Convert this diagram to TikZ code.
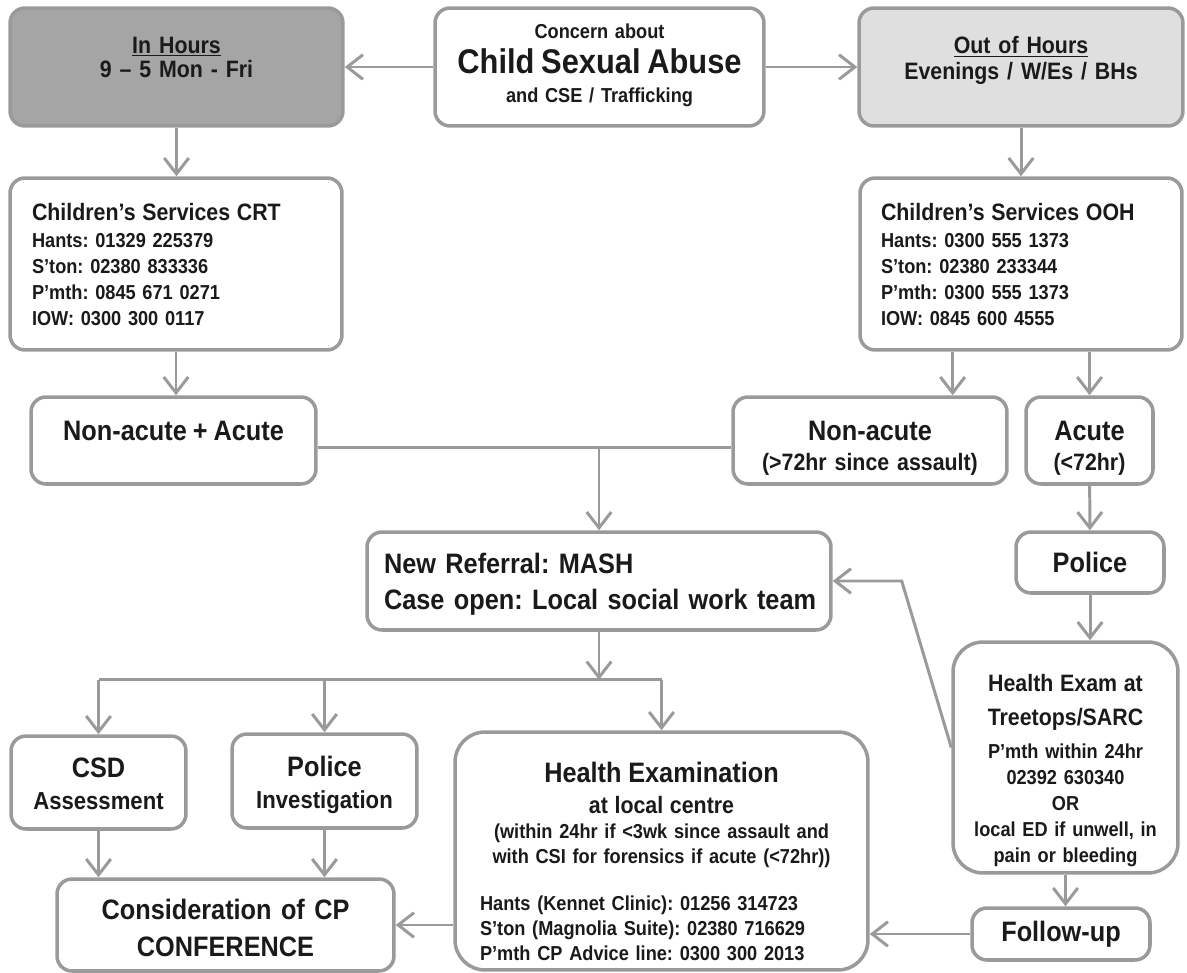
\documentclass[tikz,border=0pt]{standalone}
\usepackage{fontspec}
\setmainfont{Liberation Sans}[FakeStretch=0.9, WordSpace=0.85]
\usepackage{xcolor}
\usetikzlibrary{arrows.meta,calc}
\frenchspacing

\definecolor{linegray}{HTML}{9A9A9A}
\definecolor{darkfill}{HTML}{A5A5A5}
\definecolor{lightfill}{HTML}{DFDFDF}
\definecolor{ink}{HTML}{1A1A1A}

\newcommand{\hugesz}{\fontsize{19.5}{22}\bfseries}
\newcommand{\bigsz}{\fontsize{16}{21}\bfseries}
\newcommand{\midsz}{\fontsize{14}{18.2}\bfseries}
\newcommand{\medsz}{\fontsize{13.5}{15}\bfseries}
\newcommand{\smallsz}{\fontsize{11.5}{14.2}\bfseries}

\begin{document}
\begin{tikzpicture}[x=0.02cm, y=-0.02cm,
    box/.style={draw=linegray, line width=2pt, fill=white, rounded corners=0.3cm,
      inner sep=0pt, text=ink, align=center},
    bigbox/.style={box, rounded corners=0.6cm},
    link/.style={draw=linegray, line width=1.7pt},
    arr/.style={link, -{Straight Barb[length=9pt,width=14pt]}},
    lift/.style={text height=0pt, text depth=#1}
]
\useasboundingbox (0,0) rectangle (1187,973);

% --- Top row ---
\node[box, fill=darkfill, minimum width=6.66cm, minimum height=2.36cm, text width=6cm,
      font={\medsz\baselineskip=14.2pt}, lift=15.9pt] (inh) at (176.5,67)
      {\underline{In Hours}\\9 \textendash{} 5 Mon - Fri};
\node[box, minimum width=6.58cm, minimum height=2.36cm, text width=6.2cm,
      font={\smallsz\baselineskip=16.5pt}, lift=31.9pt] (concern) at (599.5,67)
      {Concern about\\[3.4pt]{\hugesz Child Sexual Abuse}\\and CSE / Trafficking};
\node[box, fill=lightfill, minimum width=6.48cm, minimum height=2.36cm, text width=6cm,
      font={\medsz\baselineskip=14.8pt}, lift=15pt] (ooh) at (1021,67)
      {\underline{Out of Hours}\\Evenings / W/Es / BHs};

% --- Children's services ---
\node[box, minimum width=6.64cm, minimum height=3.44cm, text width=5.76cm, align=left,
      font={\smallsz\baselineskip=14.8pt}, lift=50pt] (crt) at (176,264)
      {{\medsz Children’s Services CRT}\\[0.9pt]Hants: 01329 225379\\S’ton: 02380 833336\\P’mth: 0845 671 0271\\IOW: 0300 300 0117};
\node[box, minimum width=6.44cm, minimum height=3.44cm, text width=5.6cm, align=left,
      font={\smallsz\baselineskip=14.8pt}, lift=50pt] (oohcs) at (1021,264)
      {{\medsz Children’s Services OOH}\\[0.9pt]Hants: 0300 555 1373\\S’ton: 02380 233344\\P’mth: 0300 555 1373\\IOW: 0845 600 4555};

% --- Acute / non-acute ---
\node[box, minimum width=5.7cm, minimum height=1.74cm, font=\bigsz, lift=0pt] (nona)
      at (173.5,440.5) {Non-acute + Acute};
\node[box, minimum width=5.48cm, minimum height=1.74cm, text width=5.2cm,
      font={\medsz\baselineskip=17pt}, lift=0pt] (nonac) at (870,440.5)
      {{\bigsz Non-acute}\\(>72hr since assault)};
\node[box, minimum width=2.54cm, minimum height=1.74cm, text width=2.3cm,
      font={\medsz\baselineskip=17pt}, lift=0pt] (acute) at (1089.5,440.5)
      {{\bigsz Acute}\\(<72hr)};

% --- Referral and police ---
\node[box, minimum width=9.28cm, minimum height=1.96cm, text width=8.6cm, align=left,
      font={\bigsz\baselineskip=21pt}, lift=9.1pt] (mash) at (599,581)
      {\mbox{New Referral: MASH}\\\mbox{Case open: Local social work team}};
\node[box, minimum width=2.96cm, minimum height=1.22cm, font=\bigsz] (police)
      at (1090,562.5) {Police};
\node[bigbox, minimum width=4.5cm, minimum height=4.62cm, text width=4.3cm,
      font={\smallsz\baselineskip=14.8pt}, lift=75pt] (sarc) at (1065.5,757.5)
      {{\medsz Health Exam at}\\[4.5pt]{\medsz Treetops/SARC}\\[4pt]P’mth within 24hr\\02392 630340\\OR\\local ED if unwell, in\\pain or bleeding};

% --- Outcomes ---
\node[box, minimum width=3.5cm, minimum height=1.86cm, text width=3.3cm,
      font=\midsz, lift=5.5pt] (csd) at (98.5,782.5) {{\bigsz CSD}\\Assessment};
\node[box, minimum width=3.7cm, minimum height=1.88cm, text width=3.5cm,
      font=\midsz, lift=5pt] (polinv) at (324.5,781) {{\bigsz Police}\\Investigation};
\node[bigbox, minimum width=8.26cm, minimum height=4.76cm, text width=7.26cm,
      font={\smallsz\baselineskip=14.2pt}, lift=78.5pt] (he) at (661.5,851)
      {{\bigsz Health Examination}\\[3.7pt]{\medsz at local centre}\\(within 24hr if <3wk since assault and\\with CSI for forensics if acute (<72hr))\\[12.8pt]%
       \makebox[\hsize][l]{Hants (Kennet Clinic): 01256 314723}\\%
       \makebox[\hsize][l]{S’ton (Magnolia Suite): 02380 716629}\\%
       \makebox[\hsize][l]{P’mth CP Advice line: 0300 300 2013}};
\node[box, minimum width=6.74cm, minimum height=1.84cm, text width=6.5cm,
      font={\bigsz\baselineskip=21pt}, lift=5.7pt] (conf) at (225.5,925)
      {Consideration of CP\\CONFERENCE};
\node[box, minimum width=3.56cm, minimum height=1.04cm, font=\bigsz] (follow)
      at (1061,934) {Follow-up};

% --- Connectors ---
\draw[arr] (concern) -- (inh);
\draw[arr] (concern) -- (ooh);
\draw[arr] (inh.south) -- (inh.south |- crt.north);
\draw[arr] (ooh) -- (oohcs);
\draw[arr] (crt.south) -- (crt.south |- nona.north);
\coordinate (oohleft) at ($(oohcs.south west)!0.29!(oohcs.south east)$);
\draw[arr] (oohleft) -- (oohleft |- nonac.north);
\draw[arr] (oohcs.south -| acute.north) -- (acute.north);

\coordinate (join) at ($(mash.north |- nona.east)+(0,7)$);
\draw[link] (nona.east |- join) -- (nonac.west |- join);
\draw[arr] (join) -- (mash.north);

\draw[arr] (acute) -- (police);
\draw[arr] (police.south) -- (police.south |- sarc.north);
\coordinate (kink) at ($(mash.east)+(69,0)$);
\draw[arr] ($(sarc.west)+(0,-10)$) -- (kink) -- (mash.east);
\draw[arr] (sarc.south) -- (sarc.south |- follow.north);
\draw[arr] (follow) -- (follow -| he.east);

\coordinate (bus) at ($(mash.south)+(0,48)$);
\draw[arr] (mash.south) -- (bus);
\draw[link] (csd.north |- bus) -- (he.north |- bus);
\foreach \n in {csd,polinv,he}
  \draw[arr] (\n.north |- bus) -- (\n.north);
\foreach \n in {csd,polinv}
  \draw[arr] (\n.south) -- (\n.south |- conf.north);
\draw[arr] (conf -| he.west) -- (conf);
\end{tikzpicture}
\end{document}
